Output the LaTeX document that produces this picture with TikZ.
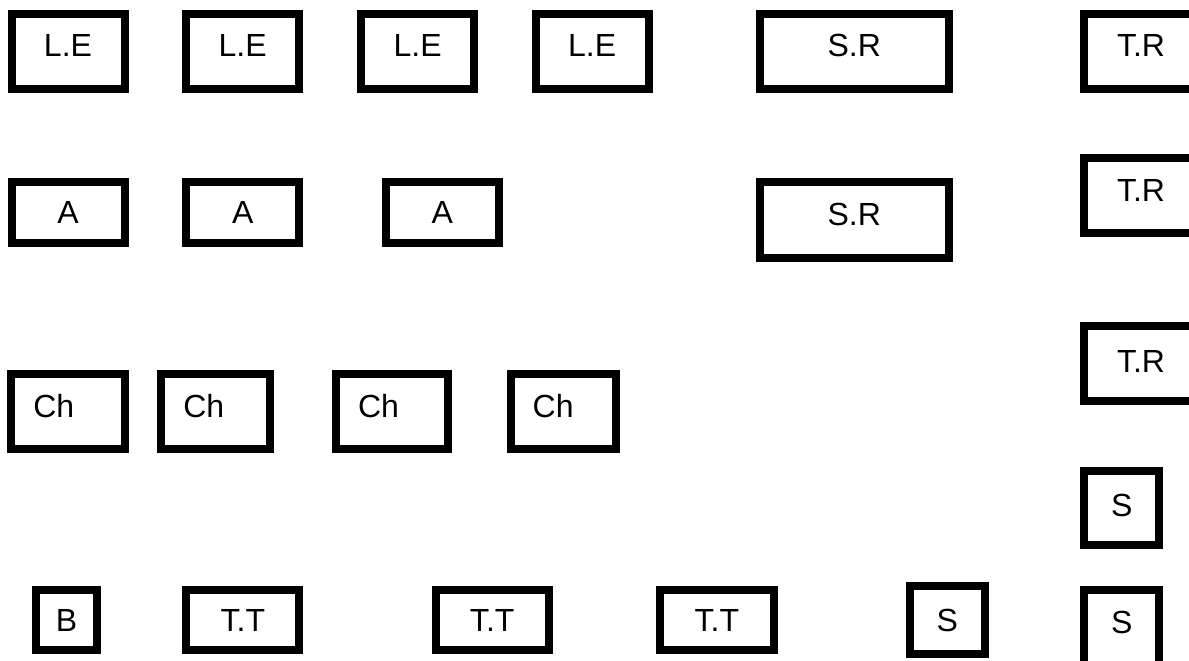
\documentclass[tikz,border=0pt]{standalone}
\usepackage{fontspec}
\setmainfont{Liberation Sans}
\usepackage{tikz}

\begin{document}
\begin{tikzpicture}[x=1pt,y=-1pt]
        \tikzstyle{box}=[rectangle,draw,line width=8pt,inner sep=0pt,font=\fontsize{32}{38}\selectfont,text height=23pt,text depth=0pt]
        \tikzstyle{every node}=[box]
        \tikzstyle{lift}=[text depth=12pt]
        \tikzset{ch/.style={lift,text width=#1,align=left,inner xsep=22pt,minimum height=75.3pt}}
        \useasboundingbox (0,0) rectangle (1189,661);
        % first row
        \node[minimum width=113pt,minimum height=75pt,lift] (le1) at (68,51.5) {L.E};
        \node[minimum width=113pt,minimum height=75pt,lift] (le2) at (242.7,51.5) {L.E};
        \node[minimum width=113pt,minimum height=75pt,lift] (le3) at (417.7,51.5) {L.E};
        \node[minimum width=113pt,minimum height=75pt,lift] (le4) at (592.2,51.5) {L.E};
        \node[minimum width=189pt,minimum height=74.7pt,lift] (sr1) at (854.3,51.3) {S.R};
        \node[minimum width=114pt,minimum height=74.7pt,lift] (tr1) at (1141,51.3) {T.R};
        % second row
        \node[minimum width=113pt,minimum height=61pt] (a1) at (68,212.2) {A};
        \node[minimum width=113pt,minimum height=61pt] (a2) at (242.7,212.2) {A};
        \node[minimum width=113pt,minimum height=61pt] (a3) at (442.2,212.2) {A};
        \node[minimum width=189pt,minimum height=76.3pt,lift] (sr2) at (854.3,219.8) {S.R};
        \node[minimum width=114pt,minimum height=75.3pt,lift] (tr2) at (1141,195.7) {T.R};
        % third row
        \node[ch=69.4pt] (ch1) at (68,411.7) {Ch};
        \node[ch=64.7pt] (ch2) at (215.7,411.7) {Ch};
        \node[ch=68.3pt] (ch3) at (392.2,411.7) {Ch};
        \node[ch=61.3pt] (ch4) at (563.3,411.7) {Ch};
        \node[minimum width=114pt,minimum height=75.3pt,text depth=6pt] (tr3) at (1141,363.7) {T.R};
        \node[minimum width=75.3pt,minimum height=74.6pt,text depth=6pt] (s1) at (1121.7,508) {S};
        % last row
        \node[minimum width=60.4pt,minimum height=60.3pt] (b) at (66.5,620.2) {B};
        \node[minimum width=113pt,minimum height=60.3pt] (tt1) at (242.8,620.2) {T.T};
        \node[minimum width=113pt,minimum height=60.3pt] (tt2) at (492.2,620.2) {T.T};
        \node[minimum width=113.7pt,minimum height=60.3pt] (tt3) at (716.8,620.2) {T.T};
        \node[minimum width=75.3pt,minimum height=68pt] (s2) at (947.3,620) {S};
        \node[minimum width=75.3pt,minimum height=75pt,text depth=11pt] (s3) at (1121.7,627.5) {S};
\end{tikzpicture}
\end{document}
